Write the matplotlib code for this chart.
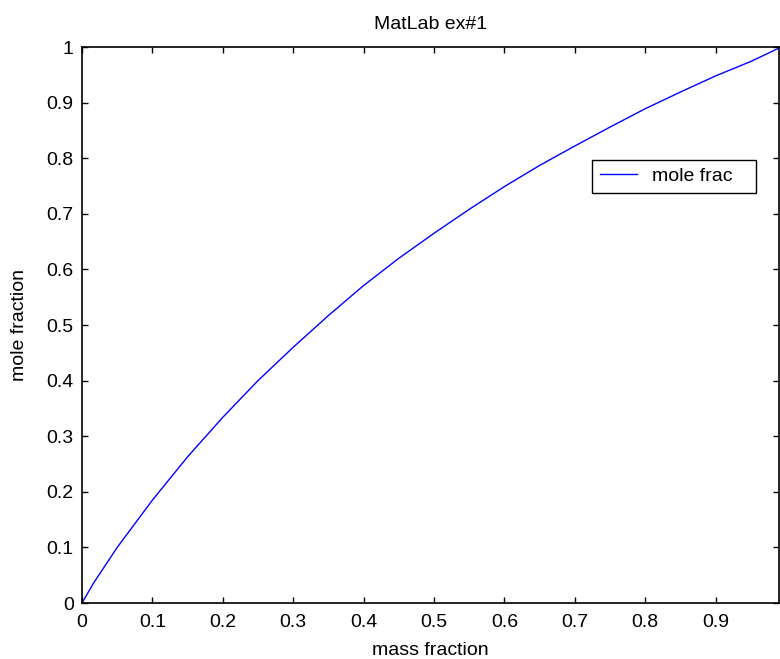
import matplotlib
matplotlib.use("Agg")
import matplotlib.pyplot as plt

mass_fraction = [0, 0.016, 0.05, 0.1, 0.15, 0.2, 0.25, 0.3, 0.35, 0.4, 0.45, 0.5,
                 0.55, 0.6, 0.65, 0.7, 0.75, 0.8, 0.85, 0.9, 0.95, 0.99]
mole_fraction = [0, 0.035, 0.10, 0.185, 0.263, 0.334, 0.40, 0.46, 0.517, 0.571, 0.62, 0.665,
                 0.708, 0.749, 0.787, 0.822, 0.856, 0.889, 0.919, 0.948, 0.974, 0.998]
x_ticks = [0, 0.1, 0.2, 0.3, 0.4, 0.5, 0.6, 0.7, 0.8, 0.9]
x_tick_labels = ["0", "0.1", "0.2", "0.3", "0.4", "0.5", "0.6", "0.7", "0.8", "0.9"]
y_ticks = [0, 0.1, 0.2, 0.3, 0.4, 0.5, 0.6, 0.7, 0.8, 0.9, 1]
y_tick_labels = ["0", "0.1", "0.2", "0.3", "0.4", "0.5", "0.6", "0.7", "0.8", "0.9", "1"]

plt.rcParams['font.family'] = ['Liberation Sans', 'DejaVu Sans']
fs = 14

fig = plt.figure(figsize=(7.8, 6.59), dpi=100)
ax = fig.add_axes([82/780, 56/659, 697/780, 556/659])
ax.plot(mass_fraction, mole_fraction, color=(0, 0, 1), linewidth=1.0, label="mole frac")
ax.set_xlim(0, 0.99)
ax.set_ylim(0, 1)
ax.set_xticks(x_ticks)
ax.set_xticklabels(x_tick_labels)
ax.set_yticks(y_ticks)
ax.set_yticklabels(y_tick_labels)
ax.tick_params(direction='in', length=4.5, width=1.0, top=True, right=True,
               labelsize=fs, colors='black')
ax.tick_params(axis='x', pad=8)
ax.tick_params(axis='y', pad=6)
for s in ax.spines.values():
    s.set_linewidth(1.2)
    s.set_color('black')
ax.set_title("MatLab ex#1", fontsize=fs, pad=13)
ax.set_xlabel("mass fraction", fontsize=fs, labelpad=8)
ax.set_ylabel("mole fraction", fontsize=fs, labelpad=13)
leg = ax.legend(loc='upper left', bbox_to_anchor=(0.732, 0.797, 0.235, 0.0),
                mode='expand', borderaxespad=0,
                fontsize=fs, frameon=True, fancybox=False, edgecolor='black',
                framealpha=1, handlelength=1.9, handletextpad=0.8,
                borderpad=0.4)
leg.get_frame().set_linewidth(1.0)
fig.savefig("out.png", dpi=100)
